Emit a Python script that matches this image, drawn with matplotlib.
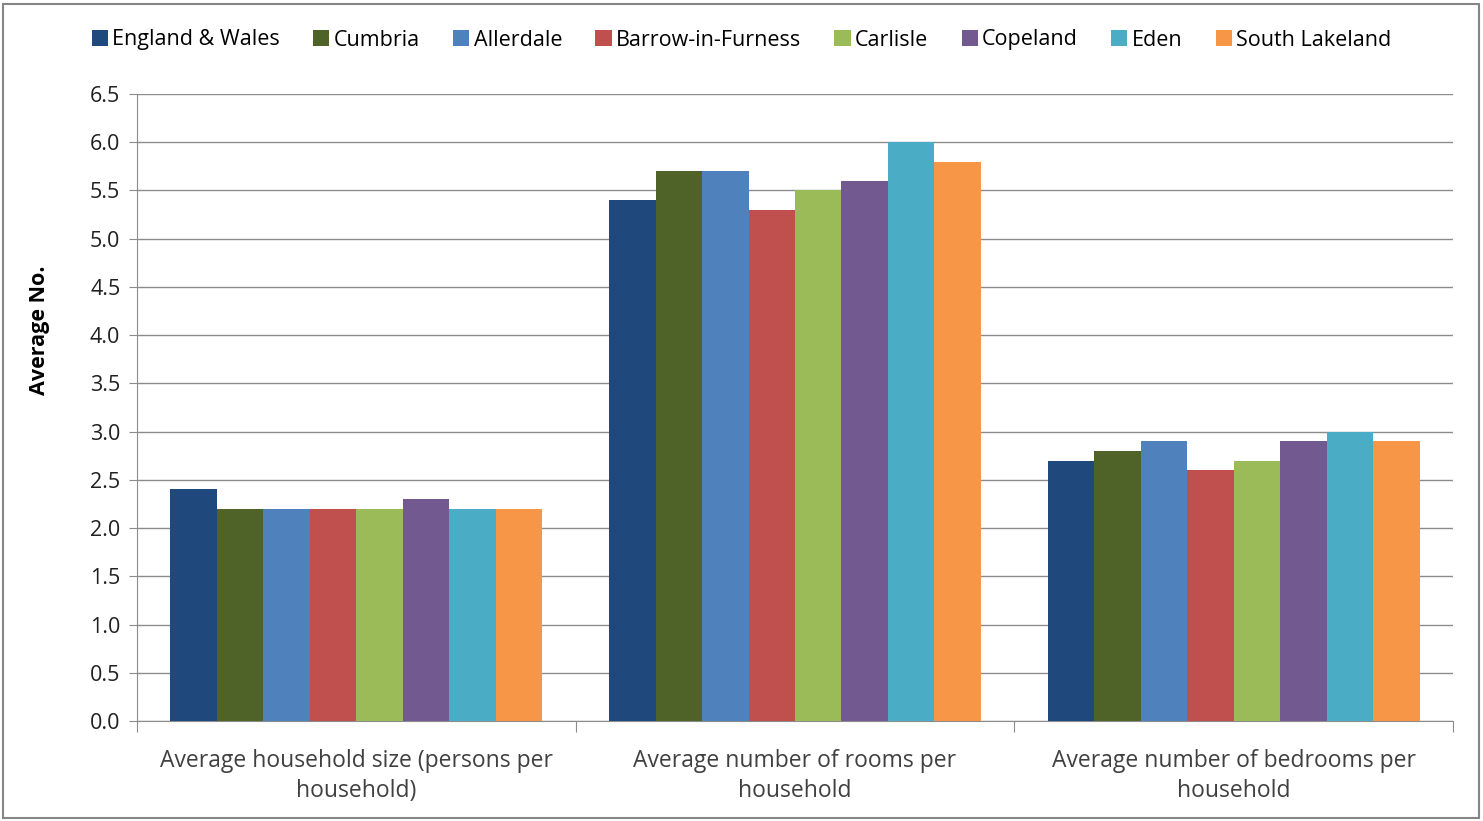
import matplotlib
matplotlib.use("Agg")
import matplotlib.pyplot as plt
from matplotlib.patches import Rectangle
import numpy as np

plt.rcParams["font.family"] = ["Open Sans", "DejaVu Sans"]

# --- Data ---
categories = [
    "Average household size (persons per\nhousehold)",
    "Average number of rooms per\nhousehold",
    "Average number of bedrooms per\nhousehold",
]
series = ["England & Wales", "Cumbria", "Allerdale", "Barrow-in-Furness",
          "Carlisle", "Copeland", "Eden", "South Lakeland"]
values = {
    "England & Wales":   [2.4, 5.4, 2.7],
    "Cumbria":           [2.2, 5.7, 2.8],
    "Allerdale":         [2.2, 5.7, 2.9],
    "Barrow-in-Furness": [2.2, 5.3, 2.6],
    "Carlisle":          [2.2, 5.5, 2.7],
    "Copeland":          [2.3, 5.6, 2.9],
    "Eden":              [2.2, 6.0, 3.0],
    "South Lakeland":    [2.2, 5.8, 2.9],
}
colors = ["#1F497D", "#4F6228", "#4F81BD", "#C0504D",
          "#9BBB59", "#725990", "#4BACC6", "#F79646"]

FS = 15.5

# --- Plot ---
fig = plt.figure(figsize=(14.83, 8.21), dpi=100)
ax = fig.add_axes([137 / 1483, 1 - 721 / 821, (1453 - 137) / 1483, (721 - 94) / 821])

n = len(series)
group_w = 0.848
bar_w = group_w / n
x = np.arange(len(categories))
for i, (name, col) in enumerate(zip(series, colors)):
    ax.bar(x - group_w / 2 + bar_w * (i + 0.5), values[name], width=bar_w,
           color=col, label=name, zorder=3)

ax.set_xlim(-0.5, len(categories) - 0.5)
ax.set_ylim(0, 6.5)
yt = np.arange(0, 6.51, 0.5)
ax.set_yticks(yt)
ax.set_yticklabels([f"{v:.1f}" for v in yt], fontsize=FS)
ax.yaxis.grid(True, color="#8c8c8c", linewidth=1.0, zorder=0)
ax.set_axisbelow(True)

# category labels between boundary ticks
ax.set_xticks(np.arange(-0.5, len(categories), 1.0))
ax.set_xticklabels([])
ax.set_xticks(x, minor=True)
ax.set_xticklabels(categories, minor=True, fontsize=16.5, color="#404040",
                   linespacing=1.35)
ax.tick_params(axis="x", which="minor", length=0, pad=20)
ax.tick_params(axis="x", which="major", length=8, color="#8c8c8c", direction="out")
ax.tick_params(axis="y", length=6, color="#8c8c8c", pad=6, labelcolor="#202020")

for side in ("top", "right"):
    ax.spines[side].set_visible(False)
for side in ("left", "bottom"):
    ax.spines[side].set_color("#8c8c8c")

ax.set_ylabel("Average No.", fontsize=FS, fontweight="bold")
ax.yaxis.set_label_coords(-0.066, (721 - 330) / 627)

handles, labels = ax.get_legend_handles_labels()
fig.legend(handles, labels, loc="center", bbox_to_anchor=(0.5, 1 - 40 / 821),
           ncol=8, frameon=False, fontsize=FS, handlelength=0.75, handleheight=0.75,
           handletextpad=0.2, columnspacing=1.55)

# outer chart border
fig.patches.append(Rectangle((3 / 1483, 3 / 821), 1 - 7 / 1483, 1 - 7 / 821,
                             transform=fig.transFigure, fill=False,
                             edgecolor="#868686", linewidth=1.5))

fig.savefig("out.png", dpi=100)
plt.close(fig)
